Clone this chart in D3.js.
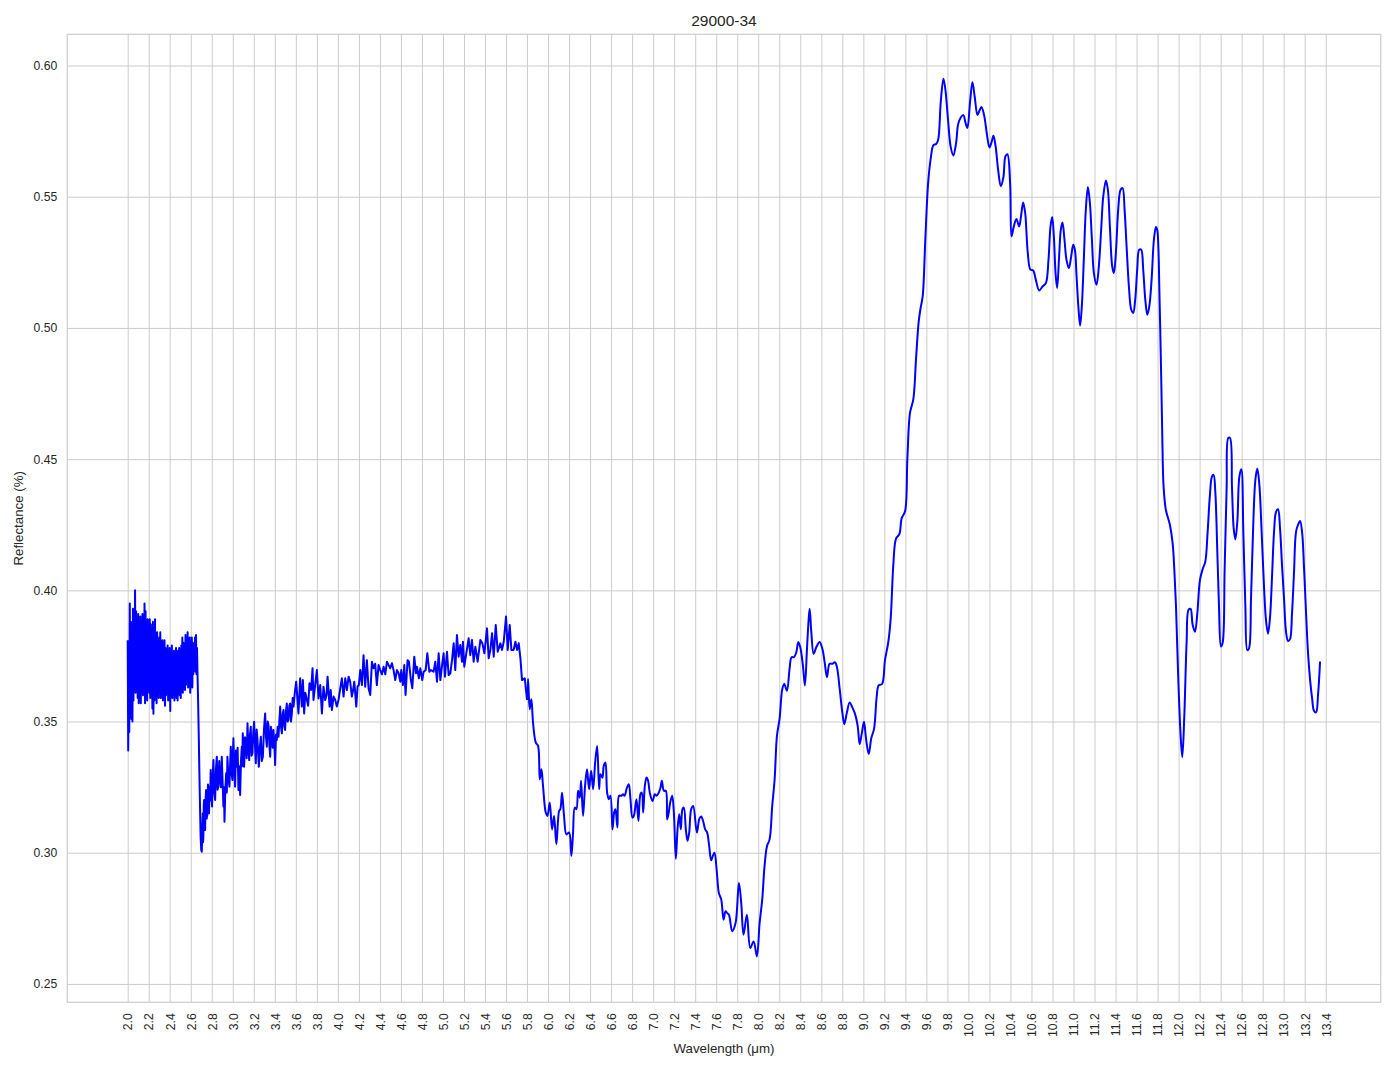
<!DOCTYPE html>
<html><head><meta charset="utf-8">
<script src="https://cdn.jsdelivr.net/npm/d3@7"></script>
<style>
body{margin:0;background:#fff}
svg{display:block}
text{font-family:"Liberation Sans",Arial,sans-serif;fill:#262626}
</style>
</head><body>
<svg id="chart" width="1394" height="1069"></svg>
<script>
const chartTitle = "29000-34";
const xLabel = "Wavelength (μm)";
const yLabel = "Reflectance (%)";
const xTicks = [2.0,2.2,2.4,2.6,2.8,3.0,3.2,3.4,3.6,3.8,4.0,4.2,4.4,4.6,4.8,5.0,5.2,5.4,5.6,5.8,6.0,6.2,6.4,6.6,6.8,7.0,7.2,7.4,7.6,7.8,8.0,8.2,8.4,8.6,8.8,9.0,9.2,9.4,9.6,9.8,10.0,10.2,10.4,10.6,10.8,11.0,11.2,11.4,11.6,11.8,12.0,12.2,12.4,12.6,12.8,13.0,13.2,13.4];
const yTicks = [0.25,0.30,0.35,0.40,0.45,0.50,0.55,0.60];

// [wavelength µm, reflectance]
const segNoisyStart = [
[2.000,.381],[2.005,.339],[2.010,.372],[2.015,.346],[2.020,.395],[2.025,.352],[2.030,.388],[2.035,.351],[2.040,.385],[2.045,.350],
[2.050,.393],[2.055,.358],[2.060,.389],[2.065,.365],[2.070,.400],[2.075,.361],[2.080,.392],[2.085,.364],[2.090,.386],[2.095,.359],
[2.100,.391],[2.105,.357],[2.110,.384],[2.115,.363],[2.120,.390],[2.125,.357],[2.130,.388],[2.135,.366],[2.140,.391],[2.145,.360],
[2.150,.386],[2.155,.362],[2.160,.395],[2.165,.357],[2.170,.392],[2.175,.364],[2.180,.385],[2.185,.358],[2.190,.389],[2.195,.366],
[2.200,.383],[2.205,.361],[2.210,.389],[2.215,.359],[2.220,.387],[2.225,.364],[2.230,.381],[2.235,.355],[2.240,.388],[2.245,.353],
[2.250,.385],[2.255,.358],[2.260,.389],[2.265,.361],[2.270,.378],[2.275,.357],[2.280,.384],[2.285,.363],[2.290,.379],[2.295,.359],
[2.300,.382],[2.305,.365],[2.310,.384],[2.315,.359],[2.320,.377],[2.325,.362],[2.330,.381],[2.335,.358],[2.340,.375],[2.345,.364],
[2.350,.381],[2.355,.356],[2.360,.378],[2.365,.360],[2.370,.374],[2.375,.363],[2.380,.379],[2.385,.358],[2.390,.372],[2.395,.361],
[2.400,.378],[2.405,.354],[2.410,.376],[2.415,.362],[2.420,.379],[2.425,.359],[2.430,.371],[2.435,.364],[2.440,.377],[2.445,.358],
[2.450,.374],[2.455,.362],[2.460,.378],[2.465,.359],[2.470,.375],[2.475,.358],[2.480,.377],[2.485,.363],[2.490,.378],[2.495,.360],
[2.500,.373],[2.505,.359],[2.510,.379],[2.515,.364],[2.520,.382],[2.525,.361],[2.530,.380],[2.535,.366],[2.540,.376],[2.545,.362],
[2.550,.383],[2.555,.364],[2.560,.381],[2.565,.367],[2.570,.384],[2.575,.363],[2.580,.379],[2.585,.365],[2.590,.382],[2.595,.361],
[2.600,.377],[2.605,.366],[2.610,.382],[2.615,.363],[2.620,.380],[2.625,.368],[2.630,.378],[2.635,.370],[2.640,.382],[2.645,.369],
[2.650,.383],[2.655,.368],[2.660,.378],[2.665,.367],[2.670,.358],[2.676,.345],[2.682,.331],[2.688,.318],[2.694,.306],[2.700,.301]
];
const segDip = [
[2.705,.3004],[2.709,.3080],[2.714,.3150],[2.717,.3040],[2.720,.3060],[2.724,.3180],[2.727,.3201],[2.732,.3120],[2.737,.3087],[2.741,.3200],
[2.746,.3239],[2.752,.3130],[2.759,.3150],[2.764,.3260],[2.770,.3190],[2.774,.3150],[2.778,.3252],[2.784,.3200],[2.790,.3315],[2.797,.3210],
[2.803,.3176],[2.809,.3290],[2.816,.3353],[2.824,.3230],[2.832,.3201],[2.840,.3320],[2.848,.3366],[2.855,.3240],[2.863,.3252],[2.871,.3350],
[2.879,.3280],[2.887,.3250],[2.895,.3366],[2.903,.3270],[2.911,.3176],[2.916,.3250],[2.921,.3118],[2.929,.3240],[2.937,.3303],[2.943,.3230],
[2.949,.3366],[2.958,.3290],[2.968,.3252],[2.975,.3340],[2.981,.3404],[2.989,.3300],[2.997,.3277],[3.001,.3380],[3.006,.3436],[3.014,.3320],
[3.022,.3252],[3.030,.3390],[3.038,.3328],[3.046,.3400],[3.054,.3239],[3.062,.3330],[3.070,.3220],[3.078,.3350],[3.086,.3404],[3.090,.3330],
[3.095,.3455],[3.101,.3380],[3.108,.3328],[3.116,.3440],[3.124,.3417],[3.132,.3360],[3.140,.3493],[3.148,.3400],[3.156,.3353],[3.163,.3450],
[3.171,.3480],[3.179,.3370],[3.187,.3379],[3.195,.3460],[3.203,.3499],[3.211,.3410],[3.219,.3341],[3.227,.3470],[3.235,.3430],[3.241,.3380],
[3.248,.3328],[3.257,.3400],[3.267,.3442],[3.276,.3350],[3.286,.3366],[3.297,.3470],[3.308,.3531],[3.316,.3440],[3.324,.3404],[3.332,.3500],
[3.340,.3487],[3.348,.3410],[3.356,.3366],[3.363,.3480],[3.371,.3455],[3.379,.3400],[3.387,.3468],[3.395,.3420],[3.403,.3334],[3.411,.3450],
[3.419,.3430],[3.427,.3480],[3.435,.3442],[3.443,.3500],[3.451,.3557],[3.459,.3480],[3.467,.3455],[3.475,.3530],[3.483,.3544],[3.491,.3480],
[3.498,.3468],[3.506,.3540],[3.514,.3569],[3.522,.3500],[3.530,.3506],[3.538,.3560],[3.546,.3569],[3.554,.3500],[3.562,.3531],[3.570,.3590],
[3.578,.3557],[3.590,.3610]
];
const segPlateau = [
[3.603,.3652],[3.625,.3531],[3.641,.3665],[3.657,.3557],[3.667,.3658],[3.679,.3531],[3.690,.3610],[3.705,.3582],[3.717,.3560],[3.730,.3646],
[3.745,.3620],[3.759,.3703],[3.768,.3582],[3.784,.3640],[3.800,.3696],[3.816,.3588],[3.832,.3639],[3.848,.3531],[3.863,.3633],[3.879,.3582],
[3.892,.3600],[3.902,.3671],[3.921,.3557],[3.932,.3620],[3.943,.3544],[3.959,.3595],[3.975,.3582],[3.990,.3557],[4.006,.3582],[4.020,.3620],
[4.038,.3665],[4.054,.3595],[4.070,.3665],[4.086,.3620],[4.102,.3671],[4.117,.3652],[4.133,.3595],[4.145,.3620],[4.156,.3652],[4.175,.3557],
[4.187,.3633],[4.200,.3640],[4.213,.3696],[4.229,.3639],[4.244,.3753],[4.260,.3633],[4.276,.3734],[4.292,.3627],[4.308,.3601],[4.324,.3728],
[4.340,.3703],[4.355,.3720],[4.371,.3639],[4.387,.3715],[4.403,.3696],[4.419,.3680],[4.435,.3709],[4.451,.3680],[4.467,.3728],[4.483,.3715],
[4.498,.3703],[4.514,.3722],[4.530,.3696],[4.546,.3658],[4.562,.3696],[4.578,.3684],[4.594,.3652],[4.603,.3696],[4.619,.3639],[4.632,.3715],
[4.644,.3601],[4.663,.3734],[4.676,.3728],[4.695,.3658],[4.708,.3627],[4.727,.3747],[4.743,.3684],[4.752,.3709],[4.771,.3665],[4.784,.3703],
[4.803,.3658],[4.816,.3690],[4.835,.3696],[4.851,.3760],[4.870,.3690],[4.886,.3696],[4.911,.3690],[4.927,.3728],[4.943,.3652],[4.959,.3760],
[4.975,.3658],[4.990,.3709],[5.006,.3760],[5.019,.3671],[5.038,.3766],[5.054,.3677],[5.070,.3684],[5.086,.3734],[5.102,.3798],[5.117,.3696],
[5.133,.3830],[5.149,.3747],[5.165,.3792],[5.181,.3728],[5.190,.3804],[5.203,.3709],[5.222,.3760],[5.244,.3817],[5.260,.3753],[5.276,.3811],
[5.292,.3728],[5.308,.3785],[5.330,.3728],[5.356,.3811],[5.375,.3798],[5.394,.3760],[5.419,.3855],[5.435,.3741],[5.451,.3773],[5.467,.3836],
[5.483,.3747],[5.502,.3868],[5.521,.3766],[5.546,.3798],[5.562,.3773],[5.578,.3804],[5.600,.3900],[5.616,.3773],[5.635,.3868],[5.651,.3773],
[5.673,.3773],[5.689,.3804],[5.705,.3773],[5.721,.3798],[5.737,.3741],[5.752,.3658],[5.778,.3665],[5.800,.3582]
];
const segDecline = [
[5.810,.3662],[5.825,.3547],[5.841,.3585],[5.857,.3496],[5.883,.3420],[5.905,.3407],[5.921,.3280],[5.937,.3318],[5.952,.3255],[5.978,.3153],
[5.994,.3140],[6.016,.3191],[6.038,.3089],[6.057,.3140],[6.079,.3032],[6.105,.3159],[6.117,.3166],[6.133,.3229],[6.152,.3140],[6.175,.3070],
[6.200,.3077],[6.222,.2988],[6.238,.3077],[6.254,.3172],[6.270,.3166],[6.286,.3236],[6.302,.3210],[6.314,.3274],[6.333,.3140],[6.352,.3255],
[6.371,.3318],[6.390,.3242],[6.410,.3312],[6.429,.3242],[6.448,.3344],[6.467,.3407],[6.486,.3242],[6.498,.3299],[6.517,.3286],[6.530,.3331],
[6.546,.3344],[6.562,.3229],[6.578,.3204],[6.594,.3217],[6.613,.3089],[6.629,.3153],[6.641,.3166],[6.660,.3096],[6.676,.3217],[6.698,.3217],
[6.714,.3223],[6.730,.3217],[6.746,.3242],[6.768,.3261],[6.784,.3204],[6.803,.3134],[6.816,.3140],[6.841,.3204],[6.860,.3121],[6.879,.3223],
[6.892,.3229],[6.905,.3153],[6.921,.3255],[6.937,.3287],[6.952,.3274],[6.968,.3229],[6.994,.3197],[7.016,.3223],[7.032,.3217],[7.054,.3229],
[7.070,.3248],[7.083,.3274],[7.102,.3236],[7.121,.3236],[7.133,.3127],[7.146,.3147],[7.162,.3191],[7.181,.3217],[7.197,.3153],[7.216,.2977],
[7.232,.3089],[7.248,.3147],[7.263,.3089],[7.279,.3166],[7.292,.3172],[7.311,.3089],[7.327,.3045],[7.343,.3077],[7.362,.3166],[7.381,.3178],
[7.416,.3077],[7.440,.3130],[7.457,.3138],[7.476,.3120],[7.495,.3089],[7.514,.3077],[7.533,.3026],[7.552,.2971],[7.570,.2990],[7.584,.3000],
[7.605,.2930],[7.625,.2847],[7.648,.2822],[7.670,.2745],[7.689,.2777],[7.705,.2770],[7.721,.2764],[7.752,.2701],[7.784,.2732],[7.816,.2885],
[7.838,.2809],[7.860,.2688],[7.892,.2764],[7.924,.2637],[7.956,.2662],[7.987,.2605]
];
const segRise = [
[8.013,.2732],[8.038,.2822],[8.060,.2949],[8.083,.3025],[8.108,.3051],[8.133,.3178],[8.156,.3280],[8.178,.3446],[8.203,.3510],[8.229,.3624],
[8.248,.3643],[8.273,.3618],[8.298,.3701],[8.317,.3745],[8.340,.3745],[8.362,.3764],[8.381,.3803],[8.400,.3783],[8.425,.3713],[8.444,.3637],
[8.463,.3771],[8.476,.3866],[8.489,.3930],[8.505,.3841],[8.527,.3758],[8.552,.3783],[8.584,.3803],[8.610,.3777],[8.632,.3726],[8.654,.3669],
[8.679,.3720],[8.705,.3720],[8.730,.3726],[8.749,.3707],[8.775,.3624],[8.800,.3535],[8.819,.3490],[8.844,.3535],[8.870,.3573],[8.895,.3554],
[8.921,.3529],[8.946,.3484],[8.965,.3414],[8.984,.3452],[9.006,.3499],[9.025,.3437],[9.051,.3376],[9.076,.3437],[9.102,.3472],[9.127,.3594],
[9.146,.3638],[9.178,.3643],[9.206,.3734],[9.238,.3804],[9.260,.3891],[9.286,.4101],[9.311,.4197],[9.343,.4214],[9.365,.4275],[9.397,.4301],
[9.419,.4502],[9.444,.4676],[9.476,.4729],[9.502,.4886],[9.527,.5025],[9.546,.5078],[9.565,.5121],[9.590,.5339],[9.616,.5549],[9.641,.5645],
[9.667,.5697],[9.692,.5701],[9.711,.5715],[9.737,.5863],[9.762,.5950],[9.781,.5907],[9.806,.5793],[9.832,.5688],[9.857,.5657],[9.883,.5706],
[9.902,.5776],[9.927,.5802],[9.952,.5811],[9.971,.5784],[9.990,.5762],[10.016,.5863],[10.038,.5936],[10.060,.5880],[10.086,.5811],[10.105,.5828],
[10.124,.5842],[10.149,.5811],[10.175,.5741],[10.200,.5688],[10.219,.5706],[10.238,.5732],[10.257,.5697],[10.283,.5601],[10.308,.5540],[10.333,.5575],
[10.352,.5654],[10.371,.5662],[10.397,.5549]
];
const segPeaks = [
[10.410,.5349],[10.432,.5387],[10.457,.5415],[10.483,.5387],[10.502,.5431],[10.521,.5478],[10.540,.5438],[10.565,.5285],[10.590,.5222],[10.616,.5219],
[10.641,.5184],[10.673,.5143],[10.705,.5158],[10.737,.5171],[10.762,.5260],[10.781,.5387],[10.797,.5423],[10.813,.5349],[10.829,.5209],[10.844,.5152],
[10.863,.5273],[10.879,.5374],[10.895,.5402],[10.914,.5336],[10.933,.5260],[10.956,.5228],[10.978,.5273],[10.997,.5317],[11.013,.5298],[11.029,.5196],
[11.048,.5070],[11.063,.5009],[11.079,.5082],[11.098,.5260],[11.117,.5450],[11.137,.5537],[11.156,.5476],[11.175,.5336],[11.194,.5209],[11.219,.5165],
[11.241,.5235],[11.263,.5374],[11.283,.5501],[11.308,.5562],[11.327,.5527],[11.346,.5387],[11.368,.5235],[11.384,.5209],[11.403,.5285],[11.425,.5450],
[11.448,.5527],[11.467,.5533],[11.486,.5450],[11.505,.5311],[11.527,.5158],[11.549,.5070],[11.568,.5057],[11.587,.5108],[11.606,.5222],[11.625,.5298],
[11.644,.5298],[11.663,.5222],[11.683,.5108],[11.702,.5050],[11.721,.5082],[11.743,.5184],[11.765,.5336],[11.784,.5385],[11.797,.5372],[11.808,.5300],
[11.816,.5160],[11.825,.5000],[11.835,.4800],[11.845,.4580],[11.853,.4430],[11.860,.4377]
];
const segTail = [
[11.879,.4306],[11.917,.4250],[11.943,.4180],[11.959,.4081],[11.975,.3941],[11.997,.3659],[12.019,.3448],[12.035,.3364],[12.054,.3518],[12.076,.3800],
[12.095,.3926],[12.114,.3929],[12.133,.3870],[12.156,.3842],[12.178,.3912],[12.203,.4039],[12.229,.4081],[12.254,.4109],[12.276,.4222],[12.298,.4363],
[12.317,.4433],[12.333,.4440],[12.349,.4377],[12.368,.4152],[12.384,.3941],[12.403,.3786],[12.419,.3800],[12.438,.4081],[12.457,.4391],[12.473,.4581],
[12.489,.4581],[12.508,.4391],[12.524,.4236],[12.540,.4194],[12.559,.4264],[12.578,.4433],[12.597,.4461],[12.616,.4222],[12.635,.3941],[12.654,.3772],
[12.670,.3779],[12.689,.3969],[12.708,.4222],[12.730,.4419],[12.749,.4464],[12.768,.4405],[12.790,.4222],[12.813,.4011],[12.832,.3884],[12.851,.3835],
[12.870,.3898],[12.889,.4053],[12.908,.4222],[12.927,.4299],[12.946,.4309],[12.965,.4236],[12.984,.4095],[13.003,.3969],[13.022,.3842],[13.041,.3807],
[13.060,.3814],[13.079,.3912],[13.098,.4067],[13.117,.4222],[13.137,.4250],[13.156,.4264],[13.175,.4222],[13.194,.4081],[13.213,.3912],[13.232,.3758],
[13.251,.3659],[13.270,.3589],[13.289,.3540],[13.308,.3535],[13.327,.3603],[13.346,.3729]
];
const noisyPart = [].concat(segNoisyStart, segDip, segPlateau);
const smoothPart = [segPlateau[segPlateau.length - 1]].concat(segDecline, segRise, segPeaks, segTail);

const plot = {left:67.3, right:1380.7, top:34.3, bottom:1002.3};
const x = d3.scaleLinear().domain([1.4253, 13.923]).range([plot.left, plot.right]);
const y = d3.scaleLinear().domain([0.2430, 0.6119]).range([plot.bottom, plot.top]);
const svg = d3.select("#chart");
const gridColor = "#cccccc";

// x grid + labels
const xAxis = svg.append("g").attr("transform", `translate(0,${plot.bottom})`)
  .call(d3.axisBottom(x).tickValues(xTicks).tickFormat(d3.format(".1f"))
    .tickSizeInner(-(plot.bottom - plot.top)).tickSizeOuter(0));
xAxis.select(".domain").remove();
xAxis.selectAll(".tick line").attr("stroke", gridColor).attr("stroke-width", 1);
xAxis.selectAll(".tick text")
  .attr("x", 0).attr("y", 0).attr("dy", "0.35em")
  .attr("transform", "translate(0,11) rotate(-90)")
  .attr("text-anchor", "end").style("font-size", "12.2px").attr("fill", "#262626");

// y grid + labels
const yAxis = svg.append("g").attr("transform", `translate(${plot.left},0)`)
  .call(d3.axisLeft(y).tickValues(yTicks).tickFormat(d3.format(".2f"))
    .tickSizeInner(-(plot.right - plot.left)).tickSizeOuter(0).tickPadding(10));
yAxis.select(".domain").remove();
yAxis.selectAll(".tick line").attr("stroke", gridColor).attr("stroke-width", 1);
yAxis.selectAll(".tick text").style("font-size", "12.2px").attr("fill", "#262626");

// frame
svg.append("rect").attr("x", plot.left).attr("y", plot.top)
  .attr("width", plot.right - plot.left).attr("height", plot.bottom - plot.top)
  .attr("fill", "none").attr("stroke", gridColor).attr("stroke-width", 1.2);

// spectrum line (noisy part straight segments, smooth part curved)
const lineNoisy = d3.line().x(d => x(d[0])).y(d => y(d[1]));
const lineSmooth = d3.line().x(d => x(d[0])).y(d => y(d[1])).curve(d3.curveCatmullRom.alpha(0.5));
svg.append("path").datum(noisyPart).attr("d", lineNoisy)
  .attr("fill", "none").attr("stroke", "#0000ff").attr("stroke-width", 2)
  .attr("stroke-linejoin", "round");
svg.append("path").datum(smoothPart).attr("d", lineSmooth)
  .attr("fill", "none").attr("stroke", "#0000ff").attr("stroke-width", 2)
  .attr("stroke-linejoin", "round");

// titles
svg.append("text").attr("x", (plot.left + plot.right) / 2).attr("y", 26)
  .attr("text-anchor", "middle").style("font-size", "15.5px").text(chartTitle);
svg.append("text").attr("x", (plot.left + plot.right) / 2).attr("y", 1053)
  .attr("text-anchor", "middle").style("font-size", "13.3px").text(xLabel);
svg.append("text").attr("transform", `translate(23,${(plot.top + plot.bottom) / 2}) rotate(-90)`)
  .attr("text-anchor", "middle").style("font-size", "13.3px").text(yLabel);
</script>
</body></html>
